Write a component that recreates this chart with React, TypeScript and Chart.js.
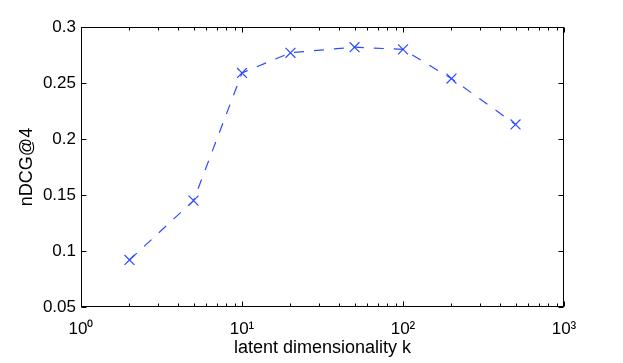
import React, { useEffect, useRef } from "react";
import { Chart, registerables } from "chart.js";

Chart.register(...registerables);

const kValues = [2, 5, 10, 20, 50, 100, 200, 500];
const ndcgValues = [0.092, 0.145, 0.259, 0.277, 0.282, 0.28, 0.254, 0.213];
const xTickValues = [1, 10, 100, 1000];
const xTickLabels = ["10⁰", "10¹", "10²", "10³"];
const xMinorMultipliers = [2, 3, 4, 5, 6, 7, 8, 9];
const yTickValues = [0.05, 0.1, 0.15, 0.2, 0.25, 0.3];
const yTickLabels = ["0.05", "0.1", "0.15", "0.2", "0.25", "0.3"];

const FONT = '"Liberation Sans", Arial, Helvetica, sans-serif';
const BLUE = "rgb(45,75,255)";

const framePlugin = {
  id: "matlabFrame",
  beforeDatasetsDraw(chart: any) {
    const { ctx, chartArea: a, scales } = chart;
    const xs = scales.x;
    const ys = scales.y;
    const L = Math.round(a.left) + 0.5;
    const R = Math.round(a.right) - 0.5;
    const T = Math.round(a.top) + 0.5;
    const B = Math.round(a.bottom) - 0.5;
    ctx.save();
    ctx.strokeStyle = "#000";
    ctx.lineWidth = 1;
    ctx.beginPath();
    xTickValues.forEach((v) => {
      const px = Math.round(xs.getPixelForValue(v)) + 0.5;
      ctx.moveTo(px, B);
      ctx.lineTo(px, B - 5);
      ctx.moveTo(px, T);
      ctx.lineTo(px, T + 5);
    });
    xTickValues.slice(0, -1).forEach((d) => {
      xMinorMultipliers.forEach((m) => {
        const px = Math.round(xs.getPixelForValue(d * m)) + 0.5;
        ctx.moveTo(px, B);
        ctx.lineTo(px, B - 3);
        ctx.moveTo(px, T);
        ctx.lineTo(px, T + 3);
      });
    });
    yTickValues.forEach((v) => {
      const py = Math.round(ys.getPixelForValue(v)) + 0.5;
      ctx.moveTo(L, py);
      ctx.lineTo(L + 5, py);
      ctx.moveTo(R, py);
      ctx.lineTo(R - 5, py);
    });
    ctx.stroke();
    ctx.strokeRect(L, T, R - L, B - T);
    ctx.restore();
  },
};

export default function App() {
  const ref = useRef<HTMLCanvasElement>(null);

  useEffect(() => {
    if (!ref.current) return;
    const chart = new Chart(ref.current, {
      type: "line",
      data: {
        datasets: [
          {
            data: kValues.map((k, i) => ({ x: k, y: ndcgValues[i] })),
            borderColor: BLUE,
            borderWidth: 1.2,
            borderDash: [10, 10],
            tension: 0,
            fill: false,
            pointStyle: "crossRot",
            pointRadius: 7,
            pointBorderColor: BLUE,
            pointBackgroundColor: BLUE,
            pointBorderWidth: 1.2,
          },
        ],
      },
      options: {
        responsive: false,
        animation: false,
        events: [],
        layout: { padding: { top: 27, right: 59, left: 0, bottom: 0 } },
        plugins: { legend: { display: false }, tooltip: { enabled: false } },
        scales: {
          x: {
            type: "logarithmic",
            min: 1,
            max: 1000,
            grid: { display: false, drawTicks: false },
            border: { display: false },
            afterBuildTicks: (s: any) => {
              s.ticks = xTickValues.map((v) => ({ value: v }));
            },
            afterFit: (s: any) => {
              s.height = 56;
            },
            ticks: {
              autoSkip: false,
              maxRotation: 0,
              padding: 12,
              color: "#000",
              font: { family: FONT, size: 17 },
              callback: (v: any) => {
                const i = xTickValues.indexOf(Number(v));
                return i >= 0 ? xTickLabels[i] : "";
              },
            },
            title: {
              display: true,
              text: "latent dimensionality k",
              color: "#000",
              font: { family: FONT, size: 18 },
              padding: { top: 0, bottom: 4 },
            },
          },
          y: {
            type: "linear",
            min: 0.05,
            max: 0.3,
            grid: { display: false, drawTicks: false },
            border: { display: false },
            afterBuildTicks: (s: any) => {
              s.ticks = yTickValues.map((v) => ({ value: v }));
            },
            afterFit: (s: any) => {
              s.width = 81;
            },
            ticks: {
              autoSkip: false,
              padding: 5,
              color: "#000",
              font: { family: FONT, size: 17 },
              callback: (v: any) => {
                const i = yTickValues.findIndex((t) => Math.abs(t - Number(v)) < 1e-9);
                return i >= 0 ? yTickLabels[i] : "";
              },
            },
            title: {
              display: true,
              text: "nDCG@4",
              color: "#000",
              font: { family: FONT, size: 18 },
              padding: { top: 16, bottom: 0 },
            },
          },
        },
      },
      plugins: [framePlugin],
    });
    return () => chart.destroy();
  }, []);

  return (
    <div style={{ position: "absolute", left: 0, top: 0, width: 623, height: 363, background: "#fff" }}>
      <canvas ref={ref} width={623} height={363} style={{ display: "block" }} />
    </div>
  );
}
